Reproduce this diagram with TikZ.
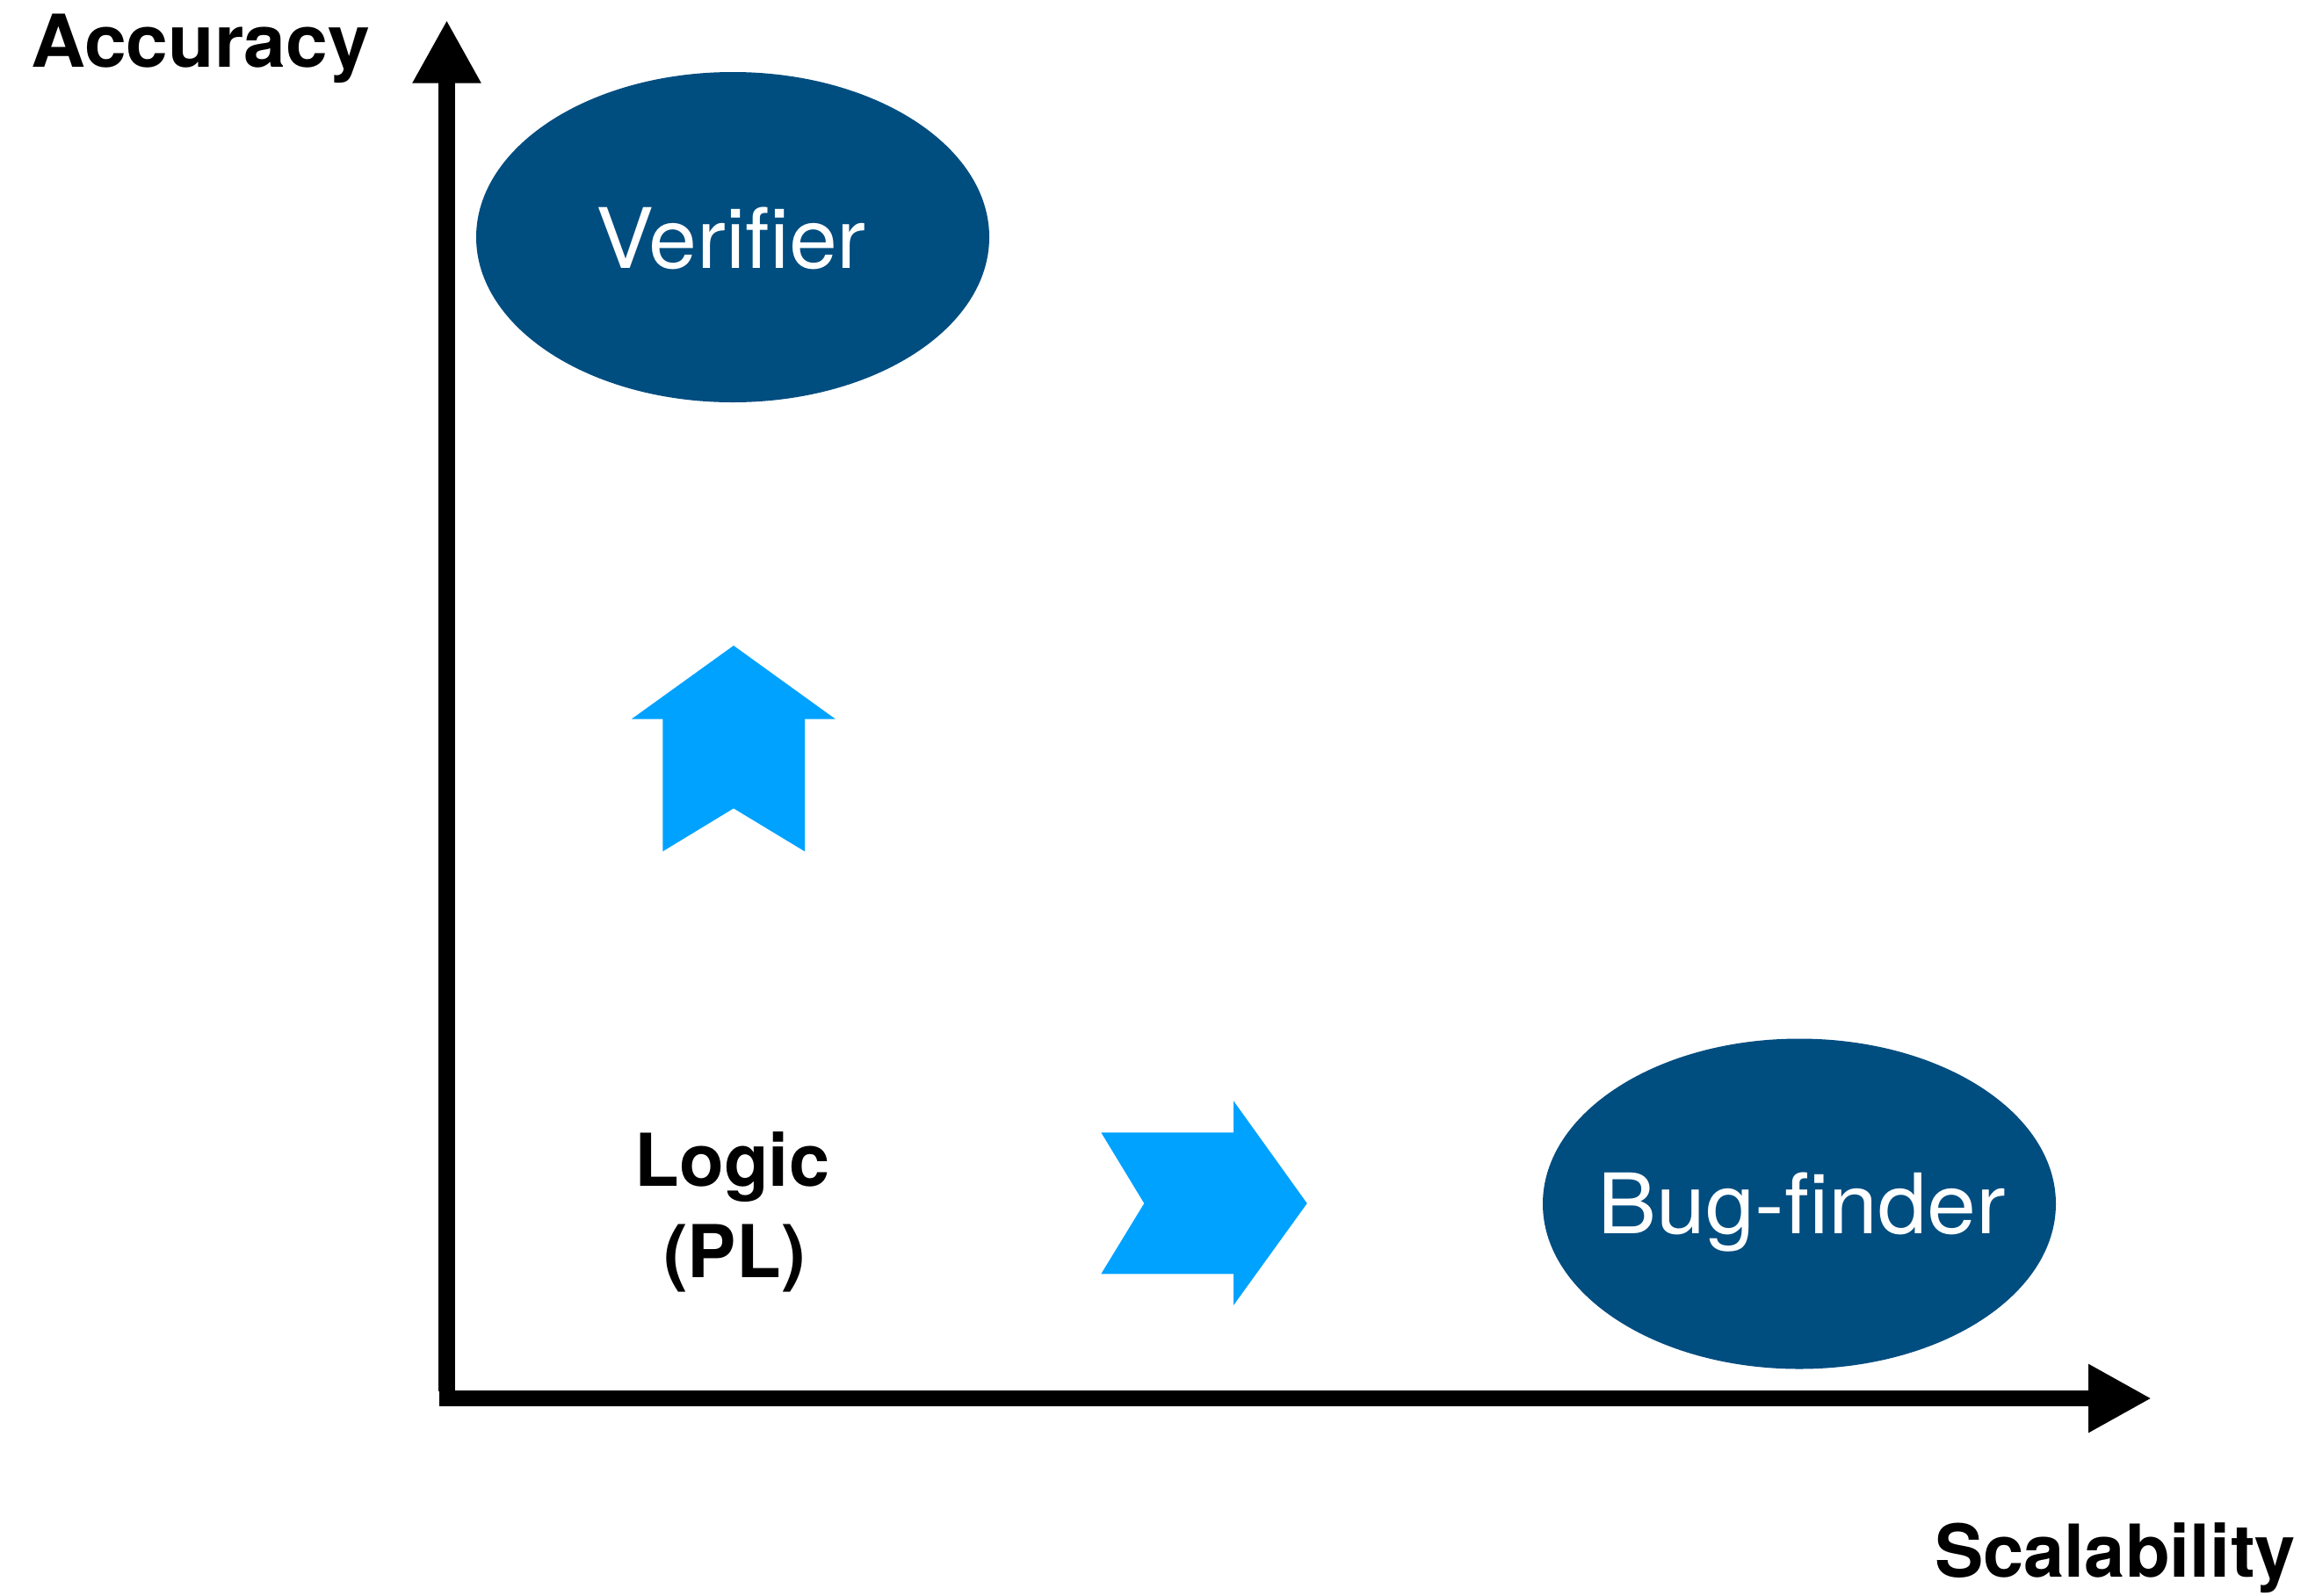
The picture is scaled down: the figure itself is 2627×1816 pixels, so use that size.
\documentclass[tikz,border=0pt]{standalone}
\usepackage{fontspec}
\setmainfont{TeX Gyre Heros}[Ligatures=CommonOff]
\usetikzlibrary{arrows.meta,shapes.geometric}
\definecolor{deepblue}{RGB}{0,77,128}
\definecolor{brightblue}{RGB}{0,162,255}
\tikzset{
  axisline/.style={draw=black,-{Triangle[length=72pt,width=73pt]}},
  blob/.style={ellipse,fill=deepblue,draw=none,inner sep=0pt,
    minimum width=584pt,minimum height=376pt},
  blobtext/.style={text=white,inner sep=0pt,anchor=base,
    font=\fontsize{95}{110}\selectfont},
  axistext/.style={text=black,inner sep=0pt,
    font=\fontsize{83}{100}\selectfont\bfseries},
  chevron/.style={fill=brightblue,draw=none}
}
\begin{document}
\begin{tikzpicture}[x=1pt,y=-1pt]
\useasboundingbox (0,0) rectangle (2627,1816);

% axes
\coordinate (yfoot) at (508.5,1584);
\coordinate (ytip) at (508.5,22.7);
\coordinate (xfoot) at (500,1592);
\coordinate (xtip) at (2449,1592);
\draw[axisline,line width=19pt] (yfoot) -- (ytip);
\draw[axisline,line width=18pt] (xfoot) -- (xtip);

\node[axistext,anchor=base west] (acc) at (35,76) {\scalebox{1.035}[1]{Accuracy}};
\node[axistext,anchor=base east] (scal) at (2613,1795) {Scalability};

% the two tool families
\node[blob] (verifier) at (834,270) {};
\node[blobtext] (verifiertext) at (832,305) {\scalebox{1.04}[1]{Verifier}};
\node[blob] (bugfinder) at (2048,1370.5) {};
\node[blobtext] (bugfindertext) at (2051,1404) {\scalebox{1.06}[1]{Bug-finder}};

% logic label
\node[axistext,anchor=base] (logic) at (833.5,1350) {Logic};
\node[axistext,anchor=base] (pl) at (836,1454) {(PL)};

% upward chevron arrow
\fill[chevron] (835,735) -- (951,818.7) -- (916,818.7) -- (916,969.3)
  -- (835,920.3) -- (754.3,969.3) -- (754.3,818.7) -- (718.7,818.7) -- cycle;

% rightward chevron arrow
\fill[chevron] (1487.7,1370) -- (1404,1486) -- (1404,1450.3) -- (1253.3,1450.3)
  -- (1302.3,1370) -- (1253.3,1289.3) -- (1404,1289.3) -- (1404,1253.3) -- cycle;
\end{tikzpicture}
\end{document}
